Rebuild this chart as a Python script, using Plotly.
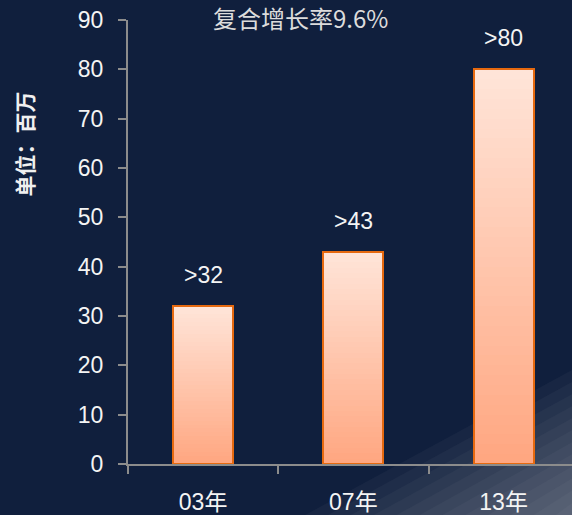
import plotly.graph_objects as go

categories = ["03年", "07年", "13年"]
values = [32, 43, 80]
labels = [">32", ">43", ">80"]
title_text = "复合增长率9.6%"
y_title = "单位：百万"
y_ticks = [0, 10, 20, 30, 40, 50, 60, 70, 80, 90]

FONT = "Liberation Sans, Arial, Noto Sans CJK SC"
BG = "#101f3d"
AXIS = "#8c8c8c"
TOP = (255, 229, 217)
BOTTOM = (255, 166, 128)
EDGE = "#e6690f"

fig = go.Figure()

n = 40
for i in range(n):
    t = (i + 0.5) / n
    c = tuple(round(BOTTOM[k] + (TOP[k] - BOTTOM[k]) * t) for k in range(3))
    fig.add_trace(go.Bar(
        x=categories,
        y=[v / n for v in values],
        base=[v * i / n for v in values],
        width=0.4,
        marker=dict(color="rgb(%d,%d,%d)" % c, line=dict(width=0)),
        hoverinfo="skip",
        showlegend=False,
    ))

fig.add_trace(go.Bar(
    x=categories, y=values, width=0.4,
    marker=dict(color="rgba(0,0,0,0)", line=dict(color=EDGE, width=2)),
    showlegend=False,
))

for c, v, lab in zip(categories, values, labels):
    fig.add_annotation(x=c, y=v, text=lab, showarrow=False, yanchor="middle",
                       yshift=31, font=dict(family=FONT, size=23, color="#f4f4f4"))

# plot-area pixel helpers for background streak
L, T, W, H = 128, 20, 444, 446
def px(x):
    return (x - L) / W
def py(y):
    return (T + H - y) / H

shapes = []
bands = 12
for k in range(bands):
    f = k / bands
    x0 = 300 + (575 - 300) * f
    y0 = 370 + (515 - 370) * f
    path = "M %f,%f L %f,%f L %f,%f Z" % (px(x0), py(520), px(575), py(y0), px(575), py(520))
    shapes.append(dict(type="path", xref="paper", yref="paper", path=path,
                       fillcolor="rgba(205,210,220,0.045)", line=dict(width=0), layer="below"))

fig.add_annotation(xref="paper", yref="paper", x=px(300), y=py(17), text=title_text,
                   showarrow=False, xanchor="center", yanchor="middle", borderpad=0,
                   font=dict(family="Noto Sans CJK SC, Liberation Sans", size=24, color="#dcdcdc"))
fig.add_annotation(xref="paper", yref="paper", x=px(24), y=py(145), text="<b>" + y_title + "</b>",
                   textangle=-90, showarrow=False, xanchor="center", yanchor="middle",
                   font=dict(family="Noto Sans CJK SC", size=21, color="#f0f0f0"))

fig.update_layout(
    width=572, height=515,
    margin=dict(l=L, r=0, t=T, b=515 - T - H),
    paper_bgcolor=BG, plot_bgcolor="rgba(0,0,0,0)",
    barmode="overlay", bargap=0,
    shapes=shapes,
    xaxis=dict(type="category", range=[-0.5, 2.455], tickson="boundaries",
               ticks="outside", ticklen=8, tickwidth=2, tickcolor=AXIS,
               showline=True, linecolor=AXIS, linewidth=2, showgrid=False, zeroline=False,
               tickfont=dict(family=FONT, size=23, color="#f4f4f4"), ticklabelstandoff=16),
    yaxis=dict(range=[0, 90], tickvals=y_ticks, ticks="outside", ticklen=8, tickwidth=2,
               tickcolor=AXIS, showline=True, linecolor=AXIS, linewidth=2,
               showgrid=False, zeroline=False,
               tickfont=dict(family=FONT, size=23, color="#f4f4f4"), ticklabelstandoff=10),
)

fig.write_html("out.html", config={"displayModeBar": False},
               post_script="document.body.style.margin='0';document.body.style.background='%s';" % BG)
